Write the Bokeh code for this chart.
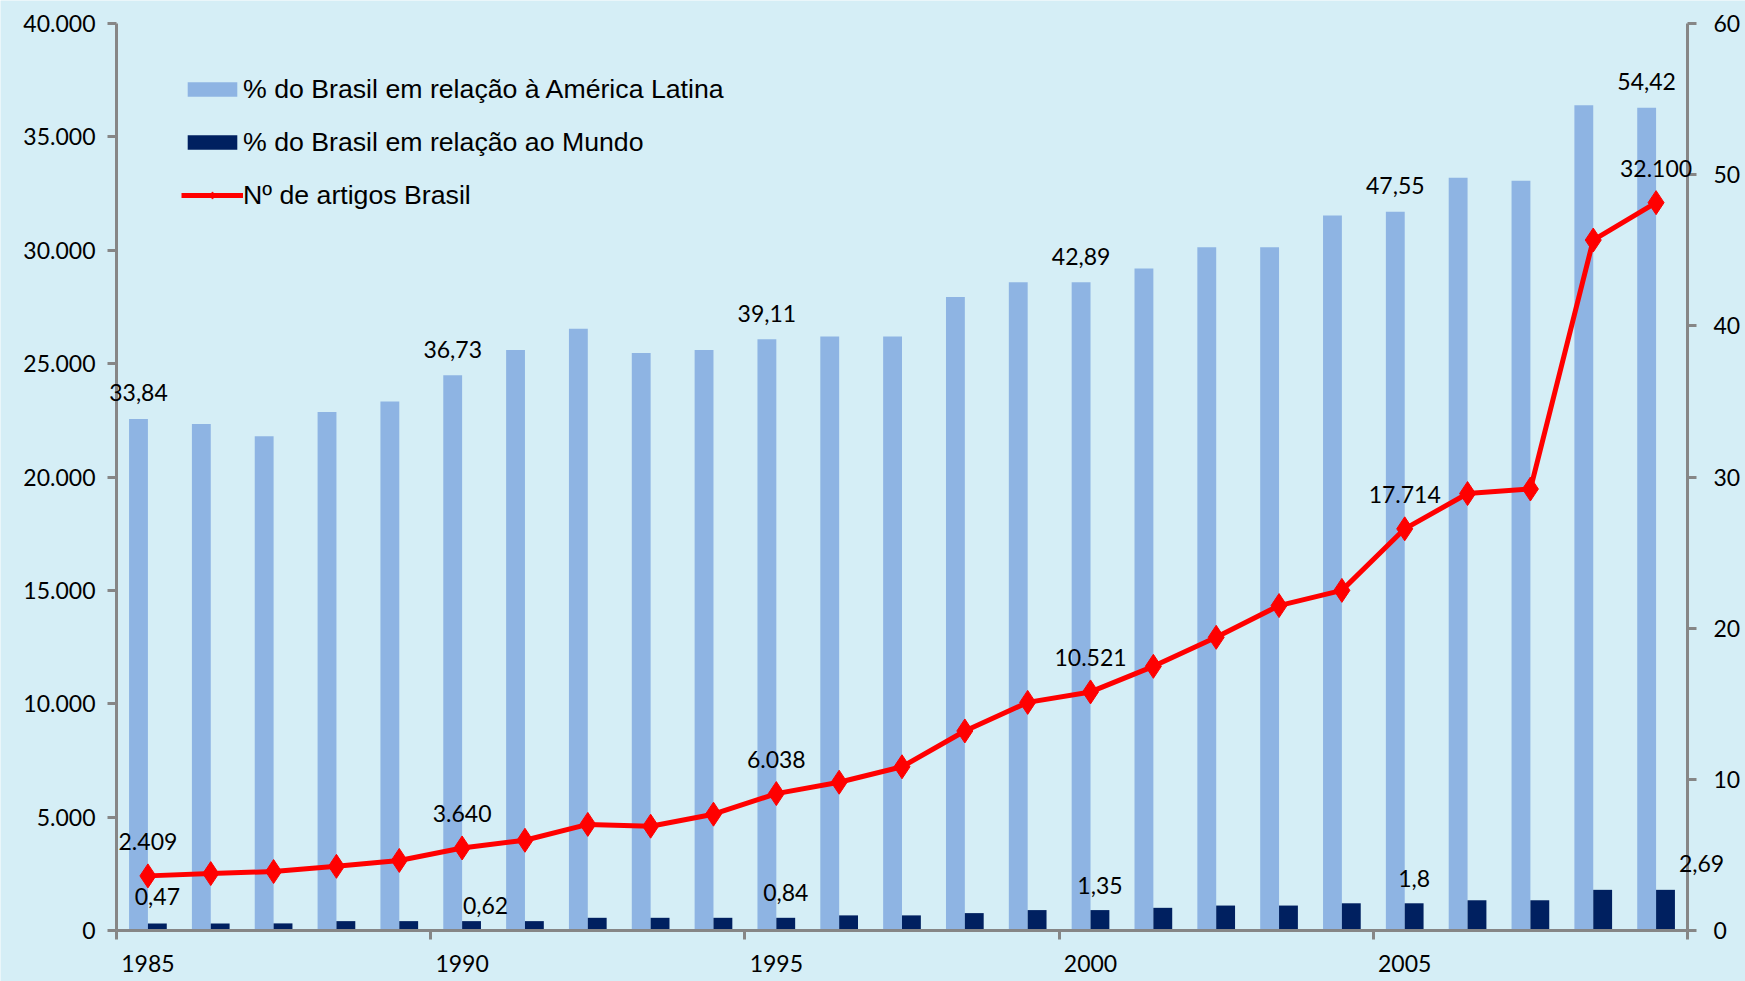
from bokeh.plotting import figure
from bokeh.models import (Range1d, LinearAxis, FixedTicker, Legend, LegendItem,
                          ColumnDataSource, Label)
from bokeh.embed import file_html
from bokeh.resources import INLINE

# ---------------- data ----------------
years = [1985, 1986, 1987, 1988, 1989, 1990, 1991, 1992, 1993, 1994,
         1995, 1996, 1997, 1998, 1999, 2000, 2001, 2002, 2003, 2004,
         2005, 2006, 2007, 2008, 2009]
articles = [2409, 2510, 2600, 2830, 3090, 3640, 3980, 4680, 4600, 5130,
            6038, 6540, 7220, 8800, 10060, 10521, 11650, 12930, 14330, 15000,
            17714, 19270, 19470, 30450, 32100]
pct_latam = [33.84, 33.5, 32.7, 34.3, 35.0, 36.73, 38.4, 39.8, 38.2, 38.4,
             39.11, 39.3, 39.3, 41.9, 42.89, 42.89, 43.8, 45.2, 45.2, 47.3,
             47.55, 49.8, 49.6, 54.6, 54.42]
pct_world = [0.47, 0.47, 0.47, 0.62, 0.62, 0.62, 0.62, 0.84, 0.84, 0.84,
             0.84, 1.0, 1.0, 1.15, 1.35, 1.35, 1.5, 1.65, 1.65, 1.8,
             1.8, 2.0, 2.0, 2.69, 2.69]
labelled_years = [1985, 1990, 1995, 2000, 2005, 2009]
x_tick_years = [1985, 1990, 1995, 2000, 2005]
left_ticks = [0, 5000, 10000, 15000, 20000, 25000, 30000, 35000, 40000]
right_ticks = [0, 10, 20, 30, 40, 50, 60]
series_names = ["% do Brasil em relação à América Latina",
                "% do Brasil em relação ao Mundo",
                "Nº de artigos Brasil"]

# label nudges (screen px, y up) for the world-share labels
world_dx = [0, 14, 0, 0, 0, 36]
world_dy = [27, 16, 25, 25, 25, 26]

# ---------------- style / layout ----------------
BG = "#d5eef6"
LIGHT = "#8eb4e3"
DARK = "#002060"
RED = "#ff0000"
AXIS = "#868686"
NUM_FONT = "Lato"
NUM_SIZE = "23px"
W, H = 1745, 981
AX_LEFT_PX, AX_RIGHT_PX = 116, 1687   # value axes (page px)
AX_TOP_PX, AX_BOTTOM_PX = 23, 930     # top of scale / category axis (page px)
LEFT_MAX, RIGHT_MAX = 40000, 60


def fmt_thousands(v):
    return f"{int(v):,}".replace(",", ".")


def fmt_dec(v):
    return format(v, "g").replace(".", ",")


n = len(years)
xc = [i + 0.5 for i in range(n)]
BAR_W = 0.3

# The frame spans the whole page so that no text is clipped; the axes are
# pinned (fixed_location) at the edges of the data area.
px_x = (AX_RIGHT_PX - AX_LEFT_PX) / n
x_rng = Range1d(-AX_LEFT_PX / px_x, n + (W - AX_RIGHT_PX) / px_x)
plot_h = AX_BOTTOM_PX - AX_TOP_PX


def y_range_for(vmax):
    per = plot_h / vmax
    return Range1d(-(H - AX_BOTTOM_PX) / per, vmax + AX_TOP_PX / per)


src = ColumnDataSource(dict(
    x_la=[c - BAR_W / 2 for c in xc],
    x_w=[c + BAR_W / 2 for c in xc],
    xc=xc, la=pct_latam, w=pct_world, art=articles,
))

p = figure(width=W, height=H, output_backend="svg", toolbar_location=None,
           x_range=x_rng, y_range=y_range_for(LEFT_MAX),
           min_border_left=0, min_border_right=0,
           min_border_top=0, min_border_bottom=0,
           background_fill_color=BG, border_fill_color=BG)
p.outline_line_color = None
p.grid.visible = False
p.extra_y_ranges = {"pct": y_range_for(RIGHT_MAX)}

# bars
r_la = p.vbar(x="x_la", top="la", width=BAR_W, bottom=0, source=src,
              y_range_name="pct", fill_color=LIGHT, line_color=None)
r_w = p.vbar(x="x_w", top="w", width=BAR_W, bottom=0, source=src,
             y_range_name="pct", fill_color=DARK, line_color=None)
# line
r_line = p.line("xc", "art", source=src, line_color=RED, line_width=5)
r_pts = p.scatter("xc", "art", source=src, marker="diamond", size=24,
                  fill_color=RED, line_color=RED, line_width=1)


# data labels
def add_label(x, y, text, dx=0, dy=0, range_name="default"):
    p.add_layout(Label(x=x, y=y, text=text, y_range_name=range_name,
                       x_offset=dx, y_offset=dy,
                       text_font=NUM_FONT, text_font_size=NUM_SIZE,
                       text_align="center", text_baseline="middle",
                       text_color="black"))


idx = [years.index(y) for y in labelled_years]
for k, i in enumerate(idx):
    add_label(xc[i] - BAR_W / 2, pct_latam[i], fmt_dec(pct_latam[i]),
              dy=26, range_name="pct")
    add_label(xc[i] + BAR_W / 2, pct_world[i], fmt_dec(pct_world[i]),
              dx=world_dx[k], dy=world_dy[k], range_name="pct")
    add_label(xc[i], articles[i], fmt_thousands(articles[i]), dy=34)


def style_axis(ax):
    ax.axis_line_color = AXIS
    ax.axis_line_width = 3
    ax.major_tick_line_color = AXIS
    ax.major_tick_line_width = 3
    ax.major_tick_in = 0
    ax.major_tick_out = 9
    ax.minor_tick_line_color = None
    ax.major_label_text_font = NUM_FONT
    ax.major_label_text_font_size = NUM_SIZE
    ax.major_label_text_color = "black"


# left axis, pinned at the first category edge
yl = p.yaxis[0]
style_axis(yl)
yl.fixed_location = 0
yl.bounds = (0, LEFT_MAX)
yl.ticker = FixedTicker(ticks=left_ticks)
yl.major_label_overrides = {t: fmt_thousands(t) for t in left_ticks}
yl.major_label_standoff = 12

# right axis, pinned at the last category edge
yr = LinearAxis(y_range_name="pct", ticker=FixedTicker(ticks=right_ticks),
                fixed_location=n, bounds=(0, RIGHT_MAX))
style_axis(yr)
yr.major_label_standoff = 17
p.add_layout(yr, "right")

# bottom axis: labels at category centres, ticks at 5-year boundaries
xa = p.xaxis[0]
style_axis(xa)
xa.fixed_location = 0
xa.bounds = (0, n)
centre_ticks = [xc[years.index(y)] for y in x_tick_years]
boundary_ticks = [years.index(y) for y in x_tick_years] + [n]
xa.ticker = FixedTicker(ticks=centre_ticks, minor_ticks=boundary_ticks)
xa.major_label_overrides = {c: str(y) for c, y in zip(centre_ticks, x_tick_years)}
xa.major_tick_line_color = None
xa.major_tick_out = 9
xa.minor_tick_line_color = AXIS
xa.minor_tick_line_width = 3
xa.minor_tick_in = 0
xa.minor_tick_out = 9
xa.major_label_standoff = 15

# legend
legend = Legend(items=[
    LegendItem(label=series_names[0], renderers=[r_la]),
    LegendItem(label=series_names[1], renderers=[r_w]),
    LegendItem(label=series_names[2], renderers=[r_line, r_pts]),
], location=(AX_LEFT_PX + 65, (H - AX_BOTTOM_PX) + 719))
legend.background_fill_alpha = 0
legend.border_line_color = None
legend.label_text_font = "Liberation Sans"
legend.label_text_font_size = "26.7px"
legend.label_text_color = "black"
legend.glyph_width = 62
legend.glyph_height = 18
legend.label_height = 32
legend.spacing = 21
legend.padding = 0
legend.margin = 0
legend.label_standoff = 0
p.add_layout(legend, "center")

html = file_html(p, INLINE)
html = html.replace("<body>", '<body style="background-color:%s">' % BG, 1)
open("out.html", "w").write(html)
